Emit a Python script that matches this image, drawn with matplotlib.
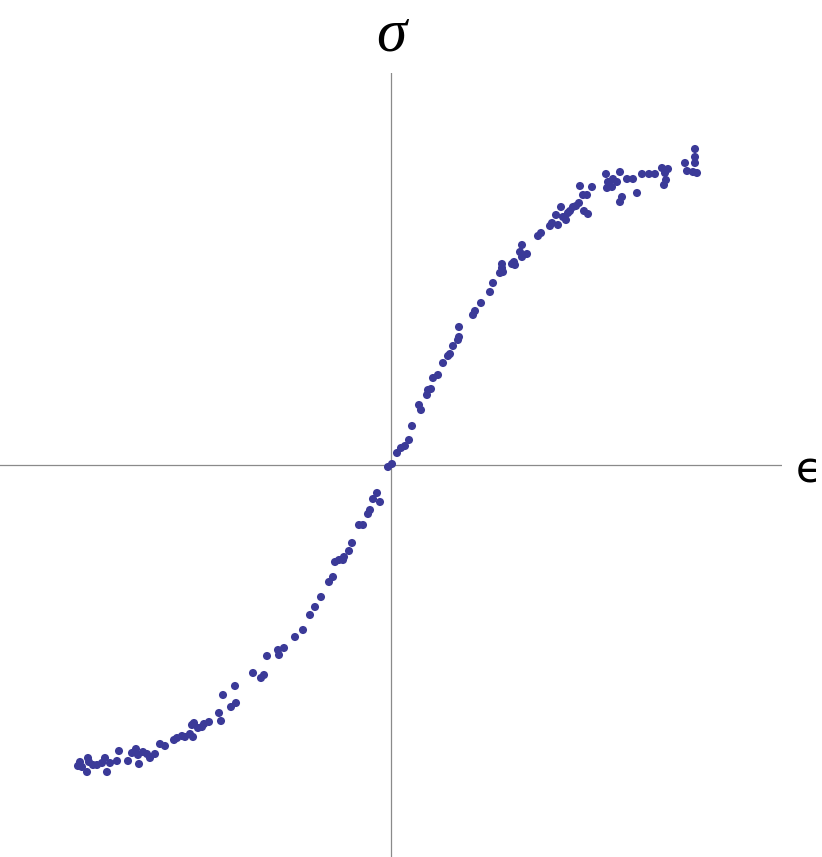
import numpy as np
import matplotlib.pyplot as plt

# strain / stress samples (1 unit = 100 px)
eps_px = [80, 78, 82, 88, 89, 87, 93, 97, 102, 105, 107, 110, 117, 119, 128, 132,
          136, 139, 138, 143, 147, 150, 155, 160, 165, 174, 177, 182, 185, 190, 192,
          194, 193, 198, 202, 204, 209, 219, 221, 223, 231, 235, 236, 253, 261, 264,
          267, 278, 279, 284, 295, 303, 310, 315, 321, 329, 333, 335, 339, 343, 344,
          349, 352, 359, 363, 368, 370, 373, 377, 380, 388, 392, 397, 401, 405, 409,
          412, 421, 419, 427, 428, 431, 433, 438, 443, 448, 450, 453, 458, 459, 459,
          473, 475, 481, 490, 493, 500, 502, 503, 502, 512, 514, 515, 522, 520, 527,
          522, 538, 541, 550, 552, 556, 558, 561, 563, 566, 568, 570, 573, 576, 579,
          580, 583, 587, 584, 588, 592, 607, 606, 608, 613, 612, 617, 620, 627, 633,
          637, 642, 649, 655, 662, 668, 665, 666, 664, 622, 620, 685, 687, 695, 695,
          695, 693, 697]
sig_px = [762, 766, 767, 758, 762, 772, 765, 765, 763, 758, 772, 763, 761, 751, 761, 753,
          749, 764, 755, 752, 754, 758, 754, 744, 746, 740, 738, 736, 737, 734, 725,
          723, 737, 728, 727, 724, 722, 713, 721, 695, 707, 686, 703, 673, 678, 675,
          656, 650, 655, 648, 637, 630, 615, 607, 597, 582, 577, 562, 560, 560, 557,
          551, 543, 525, 525, 514, 510, 499, 493, 502, 467, 464, 453, 448, 446, 440,
          426, 410, 405, 395, 390, 389, 378, 375, 363, 356, 354, 346, 340, 337, 327,
          315, 311, 303, 292, 283, 273, 268, 272, 264, 264, 262, 265, 257, 252, 254,
          245, 236, 233, 226, 223, 215, 225, 207, 217, 220, 213, 211, 207, 206, 203,
          186, 195, 195, 211, 214, 187, 188, 174, 182, 179, 187, 182, 172, 179, 179,
          193, 174, 174, 174, 168, 169, 173, 180, 185, 197, 202, 163, 171, 149, 157,
          163, 172, 173]

eps = (np.array(eps_px) - 391) / 100.0
sig = (465 - np.array(sig_px)) / 100.0

W, H = 822, 857
fig = plt.figure(figsize=(W / 100, H / 100), dpi=100)
ax = fig.add_axes([0, 0, 782 / W, 784 / H])
ax.set_xlim(-3.91, 3.91)
ax.set_ylim(-3.92, 3.92)
ax.axis('off')

ax.axhline(0, color='#8a8a8a', lw=0.9, zorder=1)
ax.axvline(0, color='#8a8a8a', lw=0.9, zorder=1)
ax.scatter(eps, sig, s=34, color='#3b3a98', edgecolors='none', zorder=3)

fig.text(391 / W, 1 - 36 / H, 'σ', ha='center', va='center',
         fontsize=44, style='italic', family='Liberation Serif')
fig.text(809 / W, 1 - 471 / H, 'ϵ', ha='center', va='center',
         fontsize=30, family='DejaVu Sans')

fig.savefig('out.png', dpi=100)
